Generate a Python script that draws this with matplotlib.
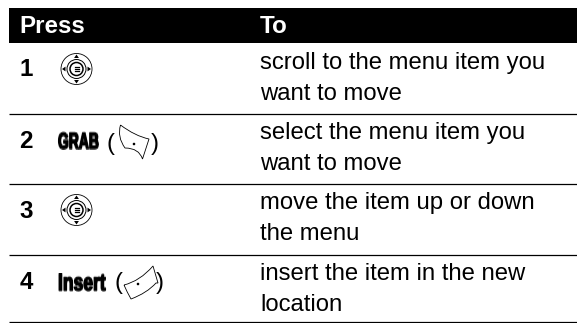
import matplotlib
matplotlib.use('Agg')
import matplotlib.pyplot as plt
import matplotlib.patheffects as pe
import numpy as np
from matplotlib.patches import Circle, PathPatch, Polygon, Rectangle
from matplotlib.path import Path

# table contents
headers = ['Press', 'To']
step_numbers = ['1', '2', '3', '4']
key_names = ['', 'GRAB', '', 'Insert']
key_icons = ['nav', 'left', 'nav', 'right']
actions = [
    ['scroll to the menu item you', 'want to move'],
    ['select the menu item you', 'want to move'],
    ['move the item up or down', 'the menu'],
    ['insert the item in the new', 'location'],
]

# layout in picture pixels
action_baseline = [68.5, 139, 209.5, 280]
number_baseline = [76.5, 148, 218, 289]
nav_center = {0: 69, 2: 210}
rule_y = [113.5, 184, 254.5, 322.3]
name_size = {'GRAB': 10, 'Insert': 12.6}
name_baseline = {'GRAB': 145, 'Insert': 287.7}
name_stretch = {'GRAB': 1.55, 'Insert': 1.38}
paren_x = {'GRAB': (106, 151), 'Insert': (114, 156)}
paren_baseline = {'GRAB': 150, 'Insert': 289}

SANS = ['Liberation Sans', 'DejaVu Sans']
LINE_GAP = 31

C3 = Path.CURVE3
LEFT_KEY = ([(120.5, 125), (135, 136), (149, 139), (142.5, 159), (139, 148), (125, 148),
             (117, 137), (120.5, 125)],
            [Path.MOVETO, C3, C3, Path.LINETO, C3, C3, C3, C3], (134, 144))
RIGHT_KEY = ([(124, 285), (140, 281), (153, 266), (158, 283), (156, 283), (147, 293), (131, 299),
              (127, 292), (124, 285)],
             [Path.MOVETO, C3, C3, Path.LINETO, Path.LINETO, C3, C3, C3, C3], (138, 284))


def stretch_y(k):
    # the key labels are a tall condensed face, none is installed so stretch the bold one
    def flt(img, dpi):
        h = img.shape[0]
        new_h = int(round(h * k))
        pos = np.linspace(0, h - 1, new_h)
        lo = np.floor(pos).astype(int)
        hi = np.minimum(lo + 1, h - 1)
        w = (pos - lo)[:, None, None]
        return img[lo] * (1 - w) + img[hi] * w, 0, -(new_h - h) // 2
    return flt


def draw_nav(ax, cx, cy):
    ax.add_patch(Circle((cx, cy), 15.5, fc='white', ec='black', lw=0.6))
    ax.add_patch(Circle((cx, cy), 9.5, fc='white', ec='black', lw=0.7))
    ax.add_patch(Circle((cx, cy), 6.5, fc='white', ec='black', lw=1.1))
    for dy in (-2.2, 0, 2.2):
        ax.plot([cx - 2, cx + 2], [cy + dy, cy + dy], color='black', lw=0.9)
    for dx, dy in ((0, -1), (0, 1), (-1, 0), (1, 0)):
        tip = (cx + dx * 14.5, cy + dy * 14.5)
        px, py = -dy * 2.4, dx * 2.4
        base = (cx + dx * 11, cy + dy * 11)
        ax.add_patch(Polygon([tip, (base[0] + px, base[1] + py), (base[0] - px, base[1] - py)],
                             fc='black', ec='none'))


def draw_softkey(ax, key):
    verts, codes, dot = key
    ax.add_patch(PathPatch(Path(verts, codes), fc='white', ec='black', lw=0.6))
    ax.add_patch(Circle(dot, 1.3, fc='black', ec='none'))


fig = plt.figure(figsize=(5.77, 3.23), dpi=100)
ax = fig.add_axes([0, 0, 1, 1])
ax.set_xlim(0, 577)
ax.set_ylim(323, 0)
ax.axis('off')

# header band
ax.add_patch(Rectangle((9, 8), 568, 34.7, fc='black', ec='none'))
ax.text(19, 33, headers[0], color='white', family=SANS, weight='bold', size=17.4, va='baseline')
ax.text(260, 33, headers[1], color='white', family=SANS, weight='bold', size=17.4, va='baseline')

for i, num in enumerate(step_numbers):
    base = number_baseline[i]
    ax.text(19.5, base, num, family=SANS, weight='bold', size=17.4, va='baseline')

    if key_icons[i] == 'nav':
        draw_nav(ax, 76.5, nav_center[i])
    else:
        name = key_names[i]
        t = ax.text(58, name_baseline[name], name, family=SANS, weight='bold', size=name_size[name],
                    va='baseline', path_effects=[pe.withStroke(linewidth=0.9, foreground='black')])
        t.set_agg_filter(stretch_y(name_stretch[name]))
        px0, px1 = paren_x[name]
        ax.text(px0, paren_baseline[name], '(', family=SANS, size=17, va='baseline')
        draw_softkey(ax, LEFT_KEY if key_icons[i] == 'left' else RIGHT_KEY)
        ax.text(px1, paren_baseline[name], ')', family=SANS, size=17, va='baseline')

    for j, line in enumerate(actions[i]):
        ax.text(260, action_baseline[i] + j * LINE_GAP, line, family=SANS, size=17.2, va='baseline')

# row rules
for y in rule_y:
    ax.plot([9, 577], [y, y], color='black', lw=0.9, solid_capstyle='butt')

fig.savefig('out.png', dpi=100)
